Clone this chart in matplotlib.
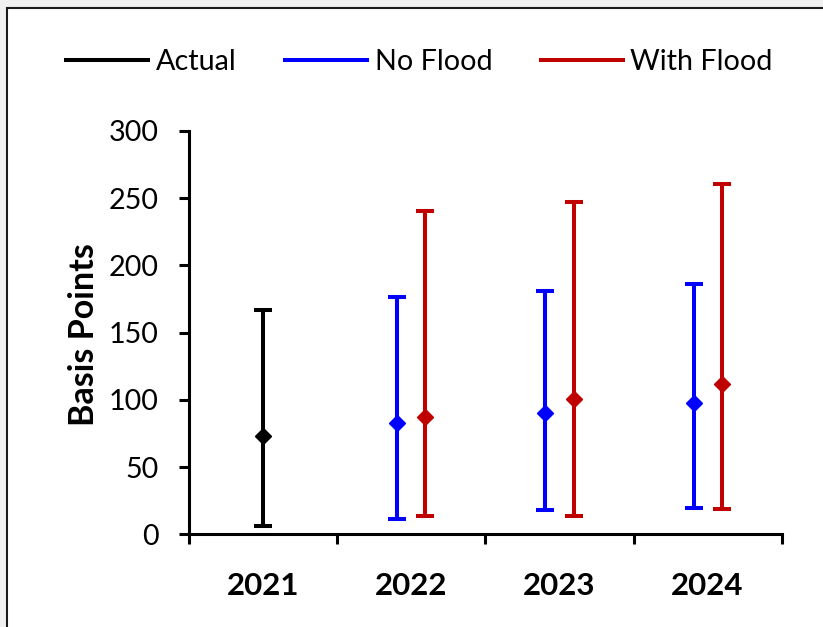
import numpy as np
import matplotlib
matplotlib.use('Agg')
import matplotlib.pyplot as plt
from matplotlib.lines import Line2D
from matplotlib.patches import Rectangle

plt.rcParams['font.family'] = ['Lato', 'DejaVu Sans']

# Basis point ranges: midpoint, low and high for each series
years = ['2021', '2022', '2023', '2024']
actual_mid = [73]
actual_low = [6]
actual_high = [167]
noflood_mid = [83, 90.5, 97.5]
noflood_low = [11.5, 18, 19.3]
noflood_high = [176.5, 181, 186]
flood_mid = [87, 100.5, 111.5]
flood_low = [13.5, 14, 18.5]
flood_high = [240.5, 247, 260.5]

fig = plt.figure(figsize=(8.23, 6.27), dpi=100, facecolor='#f0f0f0')
# white chart area with a thin dark border
fig.patches.append(Rectangle((7 / 823, -0.05), 1.1, 0.05 + 1 - 8 / 627,
                             transform=fig.transFigure, facecolor='white',
                             edgecolor='#1a1a1a', lw=1.5, zorder=-5))
ax = fig.add_axes([0.2297, 0.1478, 0.7201, 0.6433])
ax.set_facecolor('none')


def draw_range(x, mid, low, high, color):
    mid = np.array(mid)
    err = [mid - np.array(low), np.array(high) - mid]
    ax.errorbar(x, mid, yerr=err, fmt='D', color=color, ms=8.2, lw=2.9,
                elinewidth=2.9, capsize=6.8, capthick=2.9, zorder=3)


draw_range([0], actual_mid, actual_low, actual_high, 'black')
draw_range(np.arange(1, 4) - 0.095, noflood_mid, noflood_low, noflood_high, '#0000ff')
draw_range(np.arange(1, 4) + 0.095, flood_mid, flood_low, flood_high, '#c00000')

ax.set_xlim(-0.5, 3.5)
ax.set_ylim(0, 300)
ax.set_yticks(range(0, 301, 50))
ax.set_xticks(np.arange(-0.5, 3.6, 1))
ax.set_xticklabels([])
ax.set_xticks(range(4), minor=True)
ax.set_xticklabels(years, minor=True, fontweight='bold', fontsize=22.5)
ax.tick_params(axis='x', which='major', length=7, width=2.2)
ax.tick_params(axis='x', which='minor', length=0, pad=27)
ax.tick_params(axis='y', length=7, width=2.2, labelsize=20.7, pad=15)

for side in ['top', 'right']:
    ax.spines[side].set_visible(False)
for side in ['left', 'bottom']:
    ax.spines[side].set_linewidth(2.2)

fig.text(84 / 823, 1 - 335 / 627, 'Basis Points', rotation=90, ha='center',
         va='center', fontsize=24.5, fontweight='bold')

handles = [Line2D([], [], color=c, lw=2.9) for c in ['black', '#0000ff', '#c00000']]
fig.legend(handles, ['Actual', 'No Flood', 'With Flood'], loc='center',
           bbox_to_anchor=(0.5097, 1 - 62 / 627), ncol=3, frameon=False,
           fontsize=20.7, handlelength=2.86, handletextpad=0.25,
           columnspacing=1.7)

fig.savefig('out.png', dpi=100, facecolor=fig.get_facecolor())
